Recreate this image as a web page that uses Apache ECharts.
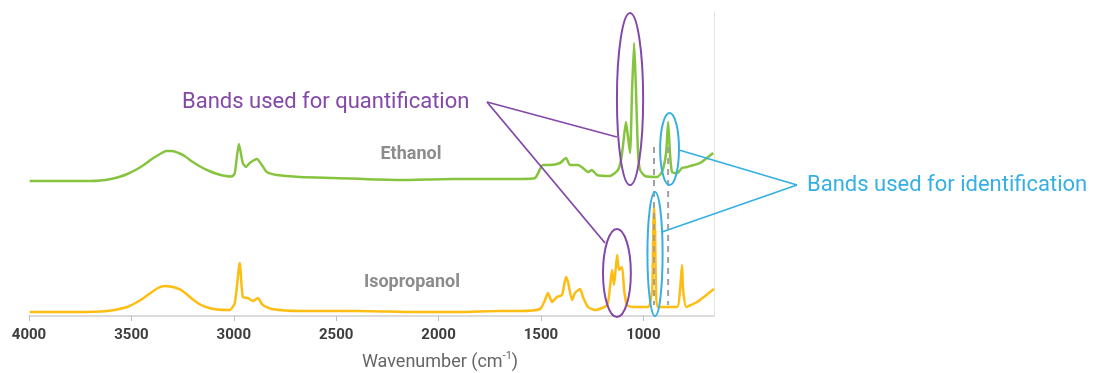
<!DOCTYPE html>
<html>
<head>
<meta charset="utf-8">
<style>
  html, body { margin: 0; padding: 0; background: #fff; }
  #chart { width: 1105px; height: 373px; }
</style>
<script src="https://cdn.jsdelivr.net/npm/echarts@6/dist/echarts.min.js"></script>
</head>
<body>
<div id="chart"></div>
<script>
// wavenumber ticks (cm-1)
let xTicks = [4000, 3500, 3000, 2500, 2000, 1500, 1000];

// spectra: [wavenumber, intensity] (ethanol drawn above isopropanol)
let ethanol = [
  [3997, 135], [3850, 135], [3700, 135], [3650, 135.5], [3600, 137], [3560, 139], [3520, 142],
  [3480, 146], [3440, 151], [3400, 157], [3360, 162], [3330, 165], [3300, 165], [3270, 163],
  [3240, 160], [3200, 154], [3160, 149], [3120, 145], [3080, 142], [3040, 140], [3010, 139.5],
  [2995, 143], [2975, 172], [2956, 153], [2941, 149], [2922, 153], [2887, 157], [2863, 151],
  [2839, 144], [2790, 141], [2677, 139], [2516, 138], [2189, 136], [1930, 137], [1700, 137],
  [1602, 137], [1529, 138], [1490, 151], [1456, 151], [1407, 153], [1378, 158], [1358, 151],
  [1319, 151], [1295, 148], [1270, 144], [1251, 146], [1226, 141], [1163, 140], [1124, 146],
  [1109, 156], [1099, 171], [1085, 194], [1075, 179], [1065, 163], [1055, 226], [1045, 273],
  [1036, 226], [1026, 163], [1016, 146], [992, 140], [933, 139], [909, 144], [889, 163],
  [879, 194], [870, 163], [860, 144], [835, 143], [811, 148], [786, 149], [772, 150],
  [723, 153], [659, 163]
];
let isopropanol = [
  [3997, 4], [3800, 4], [3650, 4.5], [3600, 5.5], [3560, 7], [3520, 9], [3480, 13], [3440, 18],
  [3400, 24], [3370, 28], [3340, 30], [3310, 29.5], [3280, 28], [3250, 25], [3220, 20],
  [3190, 15], [3160, 11], [3120, 8], [3080, 6.5], [3020, 6], [2995, 13], [2971, 53], [2956, 19],
  [2931, 18], [2907, 15], [2883, 18], [2858, 11], [2814, 7], [2677, 5], [2400, 5], [2100, 4],
  [1900, 4], [1700, 5], [1602, 5], [1505, 7], [1480, 16], [1466, 23], [1446, 14], [1422, 19],
  [1397, 21], [1378, 39], [1368, 34], [1348, 16], [1334, 23], [1309, 27], [1295, 19], [1270, 9],
  [1236, 6], [1177, 11], [1163, 29], [1153, 46], [1143, 31], [1128, 61], [1119, 46], [1104, 49],
  [1094, 26], [1080, 11], [1050, 9], [977, 9], [957, 26], [952, 86], [948, 110], [943, 86],
  [938, 26], [928, 9], [835, 9], [821, 26], [811, 51], [806, 26], [790, 9], [738, 14],
  [674, 24], [655, 27]
];

// highlighted bands: [wavenumber centre, half width, intensity centre, half height]
let quantBands = [[1065, 64, 217, 86], [1129, 68, 43, 44]];
let identBands = [[872, 46, 167, 36], [943, 37, 62, 62]];
// where the callout lines touch the bands
let quantTargets = [[1129, 179], [1187, 73]];
let identTargets = [[826, 166], [909, 84]];
// dashed guides through the identification peaks
let guideLines = [948, 879];

let purple = '#8448a8';
let blue = '#36b0e3';
let font = 'Roboto, "Noto Sans", sans-serif';

let chart = echarts.init(document.getElementById('chart'));

let option = {
  animation: false,
  grid: { left: 29, right: 391, top: 12, bottom: 57 },
  xAxis: {
    type: 'value',
    inverse: true,
    min: 655,
    max: 4000,
    axisLine: { lineStyle: { color: '#cfcfcf', width: 1.5 } },
    axisTick: { customValues: xTicks, length: 5, lineStyle: { color: '#bdbdbd' } },
    axisLabel: {
      customValues: xTicks,
      formatter: function (v) { return String(v); },
      margin: 12,
      color: '#3d3d3d',
      fontSize: 15,
      fontWeight: 'bold',
      fontFamily: font
    },
    splitLine: { show: false }
  },
  yAxis: {
    type: 'value',
    position: 'right',
    min: 0,
    max: 304,
    axisLine: { show: true, lineStyle: { color: '#e4e4e4' } },
    axisTick: { show: false },
    axisLabel: { show: false },
    splitLine: { show: false }
  },
  series: [{
    name: 'Ethanol',
    type: 'line',
    data: ethanol,
    showSymbol: false,
    smooth: 0.2,
    lineStyle: { color: '#86c440', width: 2.5 },
    itemStyle: { color: '#86c440' }
  }, {
    name: 'Isopropanol',
    type: 'line',
    data: isopropanol,
    showSymbol: false,
    smooth: 0.2,
    lineStyle: { color: '#fdbd12', width: 2.5 },
    itemStyle: { color: '#fdbd12' }
  }]
};

chart.setOption(option);

function toPx(p) {
  return chart.convertToPixel({ gridIndex: 0 }, p);
}

function ellipse(b, color) {
  let c = toPx([b[0], b[2]]);
  let e = toPx([b[0] + b[1], b[2] + b[3]]);
  return {
    type: 'ellipse',
    z: 100,
    shape: { cx: c[0], cy: c[1], rx: Math.abs(e[0] - c[0]), ry: Math.abs(e[1] - c[1]) },
    style: { fill: 'none', stroke: color, lineWidth: 2 }
  };
}

function leader(from, target, color) {
  let t = toPx(target);
  return {
    type: 'line',
    z: 100,
    shape: { x1: from[0], y1: from[1], x2: t[0], y2: t[1] },
    style: { stroke: color, lineWidth: 1.8 }
  };
}

function label(text, pos, color, size, weight, align) {
  return {
    type: 'text',
    z: 100,
    x: pos[0],
    y: pos[1],
    style: {
      text: text,
      fill: color,
      fontSize: size,
      fontWeight: weight,
      fontFamily: font,
      align: align,
      verticalAlign: 'middle'
    }
  };
}

let elements = [];

guideLines.forEach(function (wn) {
  let a = toPx([wn, 169]);
  let b = toPx([wn, 11]);
  elements.push({
    type: 'line',
    z: 90,
    shape: { x1: a[0], y1: a[1], x2: b[0], y2: b[1] },
    style: { stroke: '#a0a0a0', lineWidth: 2, lineDash: [6, 5] }
  });
});

quantBands.forEach(function (b) { elements.push(ellipse(b, purple)); });
identBands.forEach(function (b) { elements.push(ellipse(b, blue)); });

quantTargets.forEach(function (t) { elements.push(leader([487, 102], t, purple)); });
identTargets.forEach(function (t) { elements.push(leader([797, 185], t, blue)); });

elements.push(label('Bands used for quantification', [182, 102], purple, 22, 'normal', 'left'));
elements.push(label('Bands used for identification', [807, 185], blue, 22, 'normal', 'left'));

// series names sit above each trace
let ePos = toPx([2135, 162]);
let iPos = toPx([2130, 34]);
elements.push(label('Ethanol', ePos, '#8c8c8c', 18, 'bold', 'center'));
elements.push(label('Isopropanol', iPos, '#8c8c8c', 18, 'bold', 'center'));

// axis title with superscript
elements.push({
  type: 'text',
  z: 100,
  x: 440,
  y: 362,
  style: {
    text: '{a|Wavenumber (cm}{s|-1}{a|)}',
    align: 'center',
    verticalAlign: 'middle',
    rich: {
      a: { fontSize: 18, fontFamily: font, fill: '#666', lineHeight: 22 },
      s: { fontSize: 11, fontFamily: font, fill: '#666', lineHeight: 22, verticalAlign: 'top', padding: [0, 0, 8, 0] }
    }
  }
});

chart.setOption({ graphic: { elements: elements } });
</script>
</body>
</html>
